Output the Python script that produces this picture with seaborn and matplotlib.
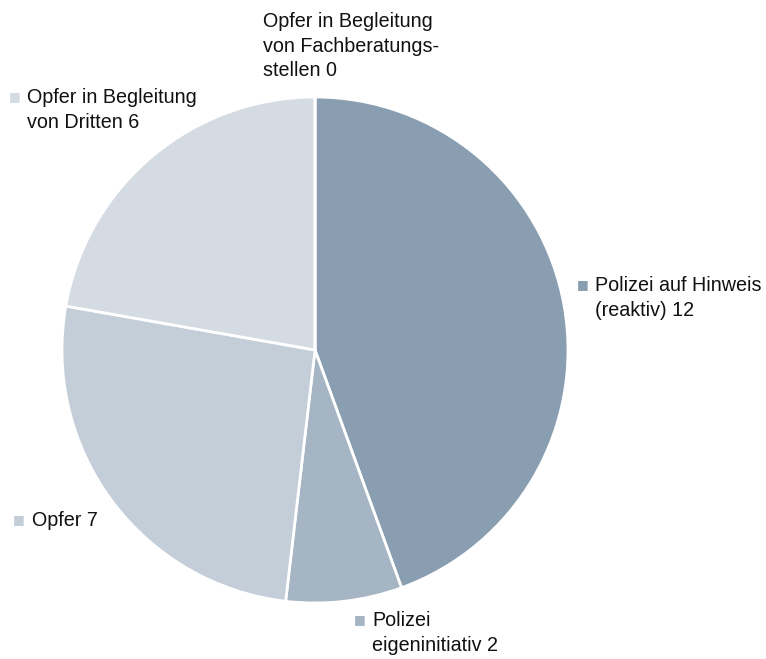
import matplotlib
matplotlib.use("Agg")
import matplotlib.pyplot as plt
import seaborn as sns

sns.set_theme(style="white")
plt.rcParams['font.family'] = ['Liberation Sans', 'DejaVu Sans']

categories = ["Polizei auf Hinweis (reaktiv)", "Polizei eigeninitiativ", "Opfer",
              "Opfer in Begleitung von Dritten",
              "Opfer in Begleitung von Fachberatungsstellen"]
values = [12, 2, 7, 6, 0]
label_texts = ["Polizei auf Hinweis\n(reaktiv) 12", "Polizei\neigeninitiativ 2", "Opfer 7",
               "Opfer in Begleitung\nvon Dritten 6",
               "Opfer in Begleitung\nvon Fachberatungs-\nstellen 0"]
colors = ["#8a9eb1", "#a6b5c4", "#c4ced9", "#d4dbe3", "#e4e9ee"]

W, H = 766, 659
fig = plt.figure(figsize=(W / 100, H / 100), dpi=100)
cx, cy, r = 315, 350, 253
ax = fig.add_axes([(cx - r) / W, (H - cy - r) / H, 2 * r / W, 2 * r / H])
ax.pie(values, colors=colors, startangle=90, counterclock=False,
       wedgeprops=dict(edgecolor="white", linewidth=2))
ax.set_xlim(-1, 1)
ax.set_ylim(-1, 1)
ax.axis("off")

# label positions in pixels (marker x, text x, vertical centre)
label_pos = [(583, 595, 298), (360, 372, 633), (19, 32, 520), (15, 27, 110), (None, 263, 46)]
fs = 14.2
for txt, col, (mx, tx, ty) in zip(label_texts, colors, label_pos):
    first_line_y = ty - 13 * (txt.count("\n"))
    if mx is not None:
        fig.text(mx / W, 1 - first_line_y / H, "■", color=col, fontsize=9,
                 ha="center", va="center", family="DejaVu Sans")
    fig.text(tx / W, 1 - ty / H, txt, color="#111111", fontsize=fs,
             ha="left", va="center", linespacing=1.38)

fig.savefig("out.png", dpi=100)
